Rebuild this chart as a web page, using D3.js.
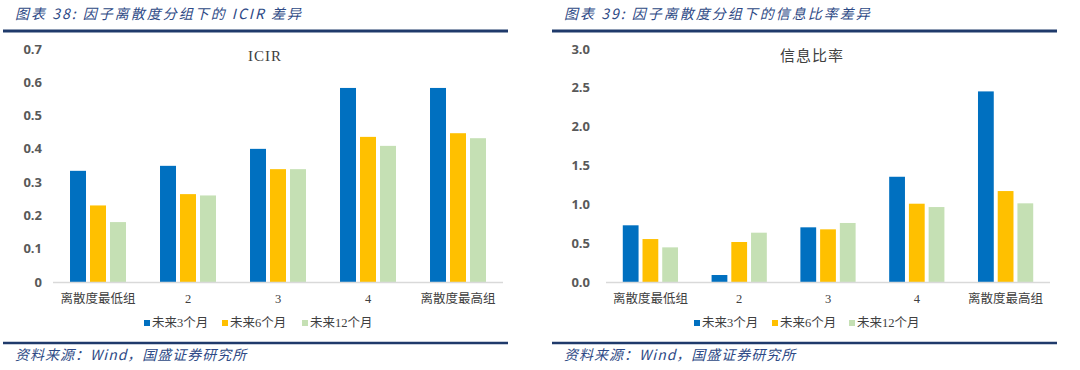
<!DOCTYPE html>
<html>
<head>
<meta charset="utf-8">
<script src="https://cdn.jsdelivr.net/npm/d3@7"></script>
<style>
  body { margin: 0; background: #fff; }
  svg { display: block; }
</style>
</head>
<body>
<svg id="chart" width="1080" height="370"></svg>
<script>
// categories and series
const groups = ["离散度最低组", "2", "3", "4", "离散度最高组"];
const seriesNames = ["未来3个月", "未来6个月", "未来12个月"];
const seriesColors = ["#0070C0", "#FFC000", "#C5E0B4"];

// ICIR by group (3m, 6m, 12m)
const icir3m = [0.334, 0.349, 0.40, 0.583, 0.583];
const icir6m = [0.23, 0.264, 0.339, 0.436, 0.447];
const icir12m = [0.18, 0.26, 0.339, 0.409, 0.432];
const icirTicks = [0, 0.1, 0.2, 0.3, 0.4, 0.5, 0.6, 0.7];

// information ratio by group
const ir3m = [0.73, 0.09, 0.704, 1.355, 2.454];
const ir6m = [0.553, 0.515, 0.678, 1.008, 1.171];
const ir12m = [0.446, 0.635, 0.76, 0.965, 1.013];
const irTicks = [0, 0.5, 1.0, 1.5, 2.0, 2.5, 3.0];

const svg = d3.select("#chart");
const titleColor = "#2E4A86";
const lineColor = "#1F3A6B";

function drawPanel(opt) {
    let g = svg.append("g");

    // header + footer
    g.append("text")
        .attr("x", opt.left + 12).attr("y", 19)
        .attr("font-family", "'Noto Sans CJK SC', sans-serif")
        .attr("font-style", "italic")
        .attr("font-size", 14)
        .attr("letter-spacing", 2)
        .attr("fill", titleColor)
        .text(opt.title);
    g.append("line")
        .attr("x1", opt.left).attr("x2", opt.right)
        .attr("y1", 31).attr("y2", 31)
        .attr("stroke", lineColor).attr("stroke-width", 3);
    g.append("line")
        .attr("x1", opt.left).attr("x2", opt.right)
        .attr("y1", 343).attr("y2", 343)
        .attr("stroke", lineColor).attr("stroke-width", 2.5);
    g.append("text")
        .attr("x", opt.left + 12).attr("y", 360)
        .attr("font-family", "'Noto Sans CJK SC', sans-serif")
        .attr("font-style", "italic")
        .attr("font-size", 14)
        .attr("letter-spacing", 1)
        .attr("fill", titleColor)
        .text("资料来源：Wind，国盛证券研究所");

    // scales
    let x0 = d3.scaleBand().domain(groups)
        .range([opt.x0, opt.x1])
        .paddingInner(0.378).paddingOuter(0.189);
    let x1 = d3.scaleBand().domain(seriesNames)
        .range([0, x0.bandwidth()])
        .paddingInner(0.2);
    let y = d3.scaleLinear().domain([0, opt.yMax]).range([282, 49]);

    // y labels
    g.selectAll(".ytick").data(opt.ticks).join("text")
        .attr("x", opt.yLabelX)
        .attr("y", d => y(d))
        .attr("dy", "0.35em")
        .attr("text-anchor", "end")
        .attr("font-family", "'Open Sans', sans-serif")
        .attr("font-weight", "bold")
        .attr("font-size", 13)
        .attr("fill", "#595959")
        .text(d => d3.format(opt.fmt)(d));

    // bars
    let rows = groups.map((grp, i) => ({
        grp: grp,
        vals: opt.series.map((s, j) => ({ name: seriesNames[j], v: s[i], c: seriesColors[j] }))
    }));
    g.selectAll(".grp").data(rows).join("g")
        .attr("transform", d => `translate(${x0(d.grp)},0)`)
        .selectAll("rect").data(d => d.vals).join("rect")
        .attr("x", d => x1(d.name))
        .attr("width", x1.bandwidth())
        .attr("y", d => y(d.v))
        .attr("height", d => y(0) - y(d.v))
        .attr("fill", d => d.c);

    // baseline
    g.append("line")
        .attr("x1", opt.x0).attr("x2", opt.x1)
        .attr("y1", y(0) + 0.5).attr("y2", y(0) + 0.5)
        .attr("stroke", "#D9D9D9").attr("stroke-width", 1.5);

    // category labels
    g.selectAll(".cat").data(groups).join("text")
        .attr("x", d => x0(d) + x0.bandwidth() / 2)
        .attr("y", 299)
        .attr("dy", "0.35em")
        .attr("text-anchor", "middle")
        .attr("font-family", "'Liberation Serif', 'Noto Sans CJK SC', serif")
        .attr("font-size", 12.5)
        .attr("fill", "#404040")
        .text(d => d);

    // chart title
    g.append("text")
        .attr("x", opt.chartTitleX).attr("y", 56)
        .attr("dy", "0.35em")
        .attr("text-anchor", "middle")
        .attr("font-family", "'Liberation Serif', 'Noto Sans CJK SC', serif")
        .attr("font-size", 15)
        .attr("letter-spacing", 1)
        .attr("fill", "#404040")
        .text(opt.chartTitle);

    // legend
    let leg = g.selectAll(".leg").data(seriesNames).join("g")
        .attr("transform", (d, i) => `translate(${opt.legendX[i]},323)`);
    leg.append("rect")
        .attr("x", 0).attr("y", -3).attr("width", 6).attr("height", 6)
        .attr("fill", (d, i) => seriesColors[i]);
    leg.append("text")
        .attr("x", 8).attr("dy", "0.35em")
        .attr("font-family", "'Liberation Serif', 'Noto Sans CJK SC', serif")
        .attr("font-size", 12.5)
        .attr("fill", "#404040")
        .text(d => d);
}

drawPanel({
    left: 3, right: 508,
    x0: 53, x1: 503,
    yMax: 0.7, ticks: icirTicks, fmt: "~g", yLabelX: 42,
    title: "图表 38:  因子离散度分组下的 ICIR 差异",
    chartTitle: "ICIR", chartTitleX: 265,
    series: [icir3m, icir6m, icir12m],
    legendX: [144, 222, 302]
});

drawPanel({
    left: 552, right: 1057,
    x0: 606, x1: 1050,
    yMax: 3.0, ticks: irTicks, fmt: ".1f", yLabelX: 590,
    title: "图表 39:  因子离散度分组下的信息比率差异",
    chartTitle: "信息比率", chartTitleX: 812,
    series: [ir3m, ir6m, ir12m],
    legendX: [694, 772, 849]
});
</script>
</body>
</html>
